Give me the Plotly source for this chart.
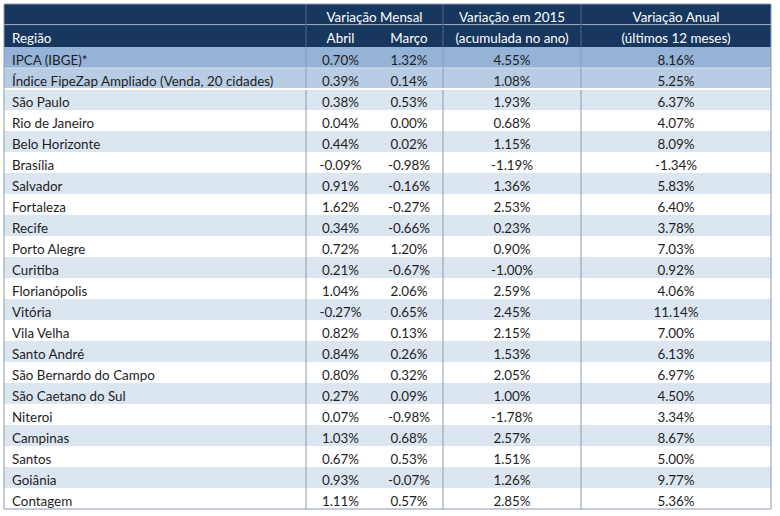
import plotly.graph_objects as go

# ---------------- data ----------------
top_header = ["", "Variação Mensal", "Variação em 2015", "Variação Anual"]
sub_header = ["Região", "Abril", "Março", "(acumulada no ano)", "(últimos 12 meses)"]

regions = ["IPCA (IBGE)*", "Índice FipeZap Ampliado (Venda, 20 cidades)", "São Paulo",
           "Rio de Janeiro", "Belo Horizonte", "Brasília", "Salvador", "Fortaleza", "Recife",
           "Porto Alegre", "Curitiba", "Florianópolis", "Vitória", "Vila Velha", "Santo André",
           "São Bernardo do Campo", "São Caetano do Sul", "Niteroi", "Campinas", "Santos",
           "Goiânia", "Contagem"]
abril = [0.70, 0.39, 0.38, 0.04, 0.44, -0.09, 0.91, 1.62, 0.34, 0.72, 0.21, 1.04, -0.27,
         0.82, 0.84, 0.80, 0.27, 0.07, 1.03, 0.67, 0.93, 1.11]
marco = [1.32, 0.14, 0.53, 0.00, 0.02, -0.98, -0.16, -0.27, -0.66, 1.20, -0.67, 2.06, 0.65,
         0.13, 0.26, 0.32, 0.09, -0.98, 0.68, 0.53, -0.07, 0.57]
acum_2015 = [4.55, 1.08, 1.93, 0.68, 1.15, -1.19, 1.36, 2.53, 0.23, 0.90, -1.00, 2.59, 2.45,
             2.15, 1.53, 2.05, 1.00, -1.78, 2.57, 1.51, 1.26, 2.85]
anual = [8.16, 5.25, 6.37, 4.07, 8.09, -1.34, 5.83, 6.40, 3.78, 7.03, 0.92, 4.06, 11.14,
         7.00, 6.13, 6.97, 4.50, 3.34, 8.67, 5.00, 9.77, 5.36]

# ---------------- styling ----------------
W, H = 780, 516
X0, X1 = 4, 771
Y0 = 4
col_w = [302, 69, 68, 138, 190]
top_w = [col_w[0], col_w[1] + col_w[2], col_w[3], col_w[4]]
H_TOP, H_SUB, H_ROW = 21, 22, 21

NAVY = "#17375E"
C_IPCA = "#95B3D7"
C_FIPE = "#B8CCE4"
C_LIGHT = "#DCE6F1"
C_WHITE = "#FFFFFF"
FONT = "Lato"
FS = 13.4

row_fill = [C_IPCA, C_FIPE] + [C_LIGHT if i % 2 == 0 else C_WHITE for i in range(len(regions) - 2)]

fig = go.Figure()

def fx(px):
    return px / W

def fy(py):
    return 1 - py / H

# top header line (spanning groups)
fig.add_trace(go.Table(
    domain=dict(x=[fx(X0), fx(X1)], y=[fy(Y0 + H_TOP), fy(Y0)]),
    columnwidth=top_w,
    header=dict(values=top_header, fill_color=NAVY, height=H_TOP,
                line=dict(width=0, color=NAVY), align="center",
                font=dict(family=FONT, size=FS, color="white")),
    cells=dict(values=[[] for _ in top_header], height=H_ROW,
               line=dict(width=0), fill_color=C_WHITE),
))

# main table
fig.add_trace(go.Table(
    domain=dict(x=[fx(X0), fx(X1)], y=[0, fy(Y0 + H_TOP)]),
    columnwidth=col_w,
    header=dict(values=sub_header, fill_color=NAVY, height=H_SUB,
                line=dict(width=0, color=NAVY),
                align=["left", "center", "center", "center", "center"],
                font=dict(family=FONT, size=FS, color="white")),
    cells=dict(values=[regions, abril, marco, acum_2015, anual],
               format=[None, ".2f", ".2f", ".2f", ".2f"],
               suffix=["", "%", "%", "%", "%"],
               fill_color=[row_fill] * 5, height=H_ROW,
               line=dict(width=0, color=[row_fill] * 5),
               align=["left", "center", "center", "center", "center"],
               font=dict(family=FONT, size=FS, color="#1E1E1E")),
))

# grid lines (styling)
Y_BODY = Y0 + H_TOP + H_SUB
Y_END = Y_BODY + H_ROW * len(regions)
shapes = []
bx = [X0 + col_w[0], X0 + col_w[0] + col_w[1] + col_w[2], X0 + sum(col_w[:4])]
for x in bx:
    shapes.append(dict(type="line", xref="paper", yref="paper", x0=fx(x), x1=fx(x),
                       y0=fy(Y0), y1=fy(Y_BODY), line=dict(color="#52698C", width=1)))
    shapes.append(dict(type="line", xref="paper", yref="paper", x0=fx(x), x1=fx(x),
                       y0=fy(Y_BODY), y1=fy(Y_END), line=dict(color="#8C9AB0", width=1)))
shapes.append(dict(type="line", xref="paper", yref="paper", x0=fx(X0), x1=fx(X1),
                   y0=fy(Y0 + H_TOP), y1=fy(Y0 + H_TOP), line=dict(color="#2E4B73", width=1)))
shapes.append(dict(type="line", xref="paper", yref="paper", x0=fx(X0), x1=fx(X1),
                   y0=fy(Y_BODY + H_ROW), y1=fy(Y_BODY + H_ROW), line=dict(color="#D5E0EE", width=1)))
shapes.append(dict(type="line", xref="paper", yref="paper", x0=fx(X0), x1=fx(X1),
                   y0=fy(Y_BODY + 2 * H_ROW), y1=fy(Y_BODY + 2 * H_ROW), line=dict(color="#FFFFFF", width=2)))
shapes.append(dict(type="rect", xref="paper", yref="paper", x0=fx(X0), x1=fx(X1),
                   y0=fy(Y_END), y1=fy(Y0), line=dict(color="#8C9AB0", width=1)))

fig.update_layout(width=W, height=H, margin=dict(l=0, r=0, t=0, b=0),
                  paper_bgcolor="white", shapes=shapes)

fig.write_html("out.html", config={"displayModeBar": False},
               post_script="document.body.style.margin='0';document.body.style.padding='0';")
